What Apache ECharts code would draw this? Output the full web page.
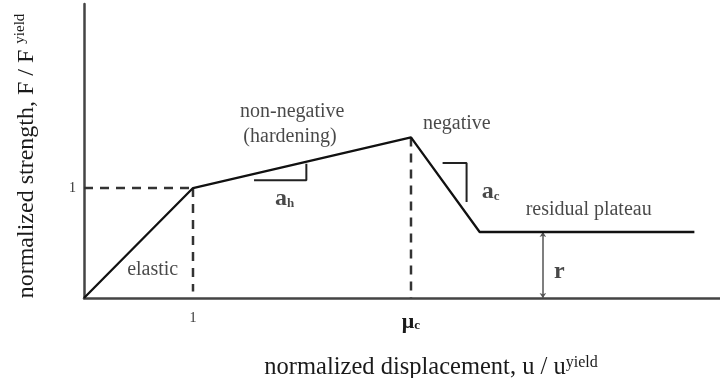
<!DOCTYPE html>
<html><head><meta charset="utf-8">
<script src="https://cdn.jsdelivr.net/npm/echarts@6/dist/echarts.min.js"></script>
<style>html,body{margin:0;padding:0;background:#fff}#c{width:720px;height:378px}</style>
</head><body><div id="c"></div>
<script>
// Backbone curve (normalized displacement, normalized strength)
const curveX = [0, 1, 3, 3.63, 5.6];
const curveY = [0, 1, 1.46, 0.6, 0.6];
// Dashed guide lines
const guideYieldH = [[0, 1], [1, 1]];
const guideYieldV = [[1, 1], [1, 0.06]];
const guidePeakV = [[3, 1.46], [3, 0]];
// Slope markers
const slopeH = [[1.56, 1.07], [2.04, 1.07], [2.04, 1.22]];
const slopeC = [[3.29, 1.227], [3.51, 1.227], [3.51, 0.873]];
// Residual arrow
const residualArrow = [[4.21, 0.6], [4.21, 0]];
// Annotations
const annoText = ['non-negative', '(hardening)', 'negative', 'residual plateau', 'elastic'];
const annoX = [1.91, 1.89, 3.42, 4.63, 0.63];
const annoY = [1.69, 1.47, 1.585, 0.805, 0.255];
const symText = ['{b|a}{sb|h}', '{b|a}{sb|c}', '{b|r}'];
const symX = [1.84, 3.73, 4.36];
const symY = [0.9, 0.965, 0.24];
// Tick labels
const xTickLabels = {1: '{n|1}', 3: '{m|μ}{ms|c}'};
const yTickLabels = {1: '1'};

const serif = 'Liberation Serif';
const dark = '#1a1a1a';
const chart = echarts.init(document.getElementById('c'), null, {renderer: 'canvas'});

const lineSer = (data, dashed, width, color) => ({
  type: 'line', data: data, symbol: 'none', silent: true, animation: false,
  lineStyle: {color: color || '#111', width: width || 2, type: dashed ? [9, 7] : 'solid'}
});

chart.setOption({
  animation: false,
  grid: {left: 84, right: 0, top: 4, bottom: 80, outerBoundsMode: 'none', containLabel: false},
  xAxis: {
    type: 'value', min: 0, max: 5.835, interval: 1,
    splitLine: {show: false}, axisTick: {show: false},
    axisLine: {lineStyle: {color: '#444', width: 2.5}},
    axisLabel: {
      showMinLabel: true, showMaxLabel: false, margin: 13,
      formatter: v => xTickLabels[v] || '',
      rich: {
        n: {fontFamily: serif, fontSize: 14, color: '#333'},
        m: {fontFamily: serif, fontSize: 22, fontWeight: 'bold', color: dark},
        ms: {fontFamily: serif, fontSize: 13, fontWeight: 'bold', color: dark, padding: [8, 0, 0, 0]}
      }
    },
    name: '{t|normalized displacement, u / u}{s|yield}',
    nameLocation: 'middle', nameGap: 57,
    nameTextStyle: {
      padding: [0, 0, 0, 58],
      rich: {
        t: {fontFamily: serif, fontSize: 24.5, color: dark},
        s: {fontFamily: serif, fontSize: 16, color: dark, padding: [0, 0, 10, 0]}
      }
    }
  },
  yAxis: {
    type: 'value', min: 0, max: 2.673, interval: 1,
    splitLine: {show: false}, axisTick: {show: false},
    axisLine: {lineStyle: {color: '#444', width: 2.5}},
    axisLabel: {
      showMaxLabel: false, margin: 8,
      formatter: v => yTickLabels[v] || '',
      fontFamily: serif, fontSize: 14, color: '#333'
    },
    name: '{t|normalized strength, F / F }{s|yield}',
    nameLocation: 'middle', nameGap: 44, nameRotate: 90,
    nameTextStyle: {
      padding: [0, 10, 0, 0],
      rich: {
        t: {fontFamily: serif, fontSize: 24, color: dark},
        s: {fontFamily: serif, fontSize: 15, color: dark, padding: [0, 0, 12, 0]}
      }
    }
  },
  series: [
    lineSer(guideYieldH, true, 2.5, '#333'),
    lineSer(guideYieldV, true, 2.5, '#333'),
    lineSer(guidePeakV, true, 2.5, '#333'),
    lineSer(curveX.map((x, i) => [x, curveY[i]]), false, 2.3, '#111'),
    lineSer(slopeH, false, 2, '#222'),
    lineSer(slopeC, false, 2, '#222'),
    {
      type: 'lines', coordinateSystem: 'cartesian2d', silent: true,
      symbol: ['arrow', 'arrow'], symbolSize: 5,
      lineStyle: {color: '#555', width: 1.5, opacity: 1},
      data: [{coords: residualArrow}]
    },
    {
      type: 'scatter', symbolSize: 0, silent: true, clip: false,
      data: annoText.map((t, i) => ({value: [annoX[i], annoY[i]], name: t})),
      label: {show: true, position: 'inside', formatter: p => p.name,
        fontFamily: serif, fontSize: 20, color: dark}
    },
    {
      type: 'scatter', symbolSize: 0, silent: true, clip: false,
      data: symText.map((t, i) => ({value: [symX[i], symY[i]], name: t})),
      label: {show: true, position: 'inside', formatter: p => p.name,
        rich: {
          b: {fontFamily: serif, fontSize: 24, fontWeight: 'bold', color: dark},
          sb: {fontFamily: serif, fontSize: 13, fontWeight: 'bold', color: dark, padding: [10, 0, 0, 0]}
        }}
    }
  ]
});
</script></body></html>
